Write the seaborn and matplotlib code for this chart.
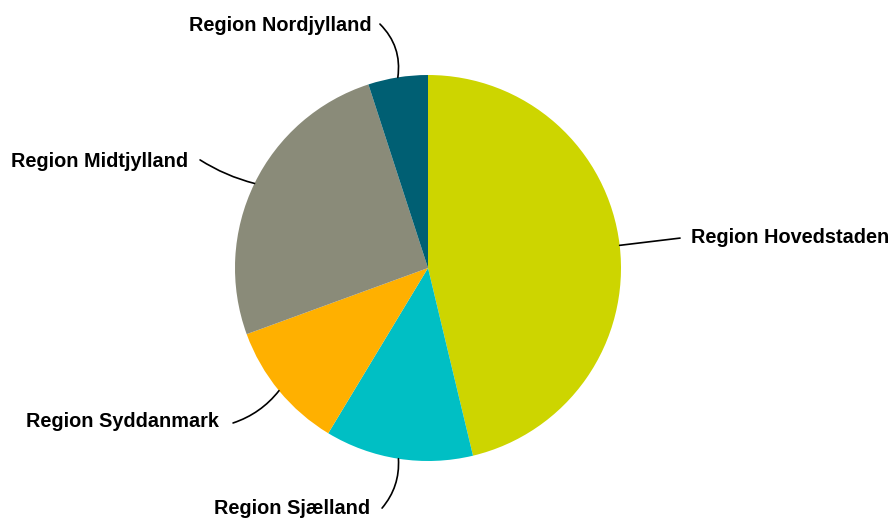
import numpy as np
import matplotlib
matplotlib.use("Agg")
import matplotlib.pyplot as plt
import seaborn as sns

regions = ["Region Hovedstaden", "Region Sjælland", "Region Syddanmark",
           "Region Midtjylland", "Region Nordjylland"]
shares = [46.3, 12.4, 10.8, 25.6, 5.0]
colors = ["#CDD500", "#00BFC4", "#FFB000", "#8A8B79", "#005F73"]

# label anchors (data coords, pie radius = 1) and text alignment
label_ends = {
    "Region Hovedstaden": ((1.306, 0.155), (1.363, 0.156), "left"),
    "Region Sjælland": ((-0.238, -1.244), (-0.301, -1.246), "right"),
    "Region Syddanmark": ((-1.010, -0.803), (-1.083, -0.796), "right"),
    "Region Midtjylland": ((-1.181, 0.560), (-1.244, 0.552), "right"),
    "Region Nordjylland": ((-0.249, 1.264), (-0.290, 1.254), "right"),
}
curve = {
    "Region Hovedstaden": 0.0,
    "Region Sjælland": 0.2,
    "Region Syddanmark": 0.15,
    "Region Midtjylland": 0.08,
    "Region Nordjylland": -0.25,
}

sns.set_theme(style="white")
plt.rcParams["font.family"] = ["Liberation Sans", "DejaVu Sans"]

fig = plt.figure(figsize=(8.91, 5.18), dpi=100)
ax = fig.add_axes([0, 0, 1, 1])

wedges, _ = ax.pie(shares, colors=colors, startangle=90, counterclock=False,
                   radius=1.0, center=(0, 0), wedgeprops=dict(linewidth=0))

for w, name in zip(wedges, regions):
    mid = np.deg2rad((w.theta1 + w.theta2) / 2)
    start = (np.cos(mid), np.sin(mid))
    end, txt, ha = label_ends[name]
    ax.annotate("", xy=start, xytext=end,
                arrowprops=dict(arrowstyle="-", color="black", lw=1.2,
                                shrinkA=0, shrinkB=0,
                                connectionstyle=f"arc3,rad={curve[name]}"))
    ax.text(txt[0], txt[1], name, ha=ha, va="center", fontsize=14.3,
            fontweight="bold", color="black")

ax.set_xlim(-2.2176, 2.399)
ax.set_ylim(-1.2953, 1.3886)
ax.set_aspect("equal")
ax.axis("off")

fig.savefig("out.png", dpi=100)
